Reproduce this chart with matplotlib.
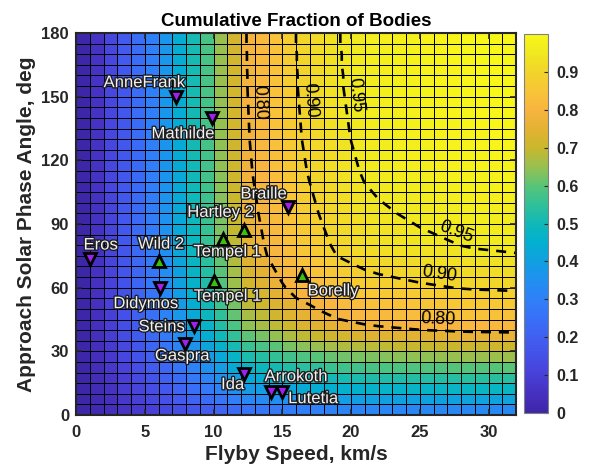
import numpy as np
import matplotlib
matplotlib.use("Agg")
import matplotlib.pyplot as plt
import matplotlib.colors as colors
import matplotlib.patheffects as pe
from matplotlib.transforms import ScaledTranslation

plt.rcParams['font.family'] = ['Liberation Sans', 'DejaVu Sans']

# grid edges (km/s, deg)
speed_kms = np.arange(0, 33, 1)
phase_deg = np.arange(0, 181, 5)

# cumulative fraction along the speed axis (read from the top row)
speed_frac = [0.00, 0.06, 0.12, 0.18, 0.24, 0.30, 0.37, 0.44, 0.51, 0.58,
              0.65, 0.72, 0.79, 0.815, 0.845, 0.875, 0.90, 0.915, 0.932, 0.948,
              0.957, 0.966, 0.972, 0.976, 0.980, 0.984, 0.987, 0.990, 0.993, 0.995,
              0.996, 0.997, 0.998]

# cumulative fraction along the phase axis (read from the right column)
phase_frac = [0.33, 0.41, 0.48, 0.54, 0.60, 0.655, 0.71, 0.765, 0.812, 0.842,
              0.866, 0.888, 0.908, 0.922, 0.936, 0.950, 0.957, 0.962, 0.967, 0.972,
              0.976, 0.980, 0.984, 0.987, 0.989, 0.991, 0.993, 0.994, 0.995, 0.996,
              0.997, 0.998, 0.998, 0.999, 0.999, 1.0, 1.0]

contour_levels = [0.80, 0.90, 0.95]

# flyby targets
body_names = ['AnneFrank', 'Mathilde', 'Braille', 'Hartley 2', 'Tempel 1', 'Tempel 1',
              'Wild 2', 'Eros', 'Didymos', 'Steins', 'Gaspra', 'Ida', 'Arrokoth',
              'Lutetia', 'Borelly']
body_speed = [7.3, 9.9, 15.4, 12.2, 10.7, 10.0, 6.05, 1.0, 6.1, 8.55, 7.95, 12.2,
              14.2, 15.0, 16.45]
body_phase = [150, 140, 98, 87, 83, 63, 72.5, 73.5, 60, 42, 33.5, 19.5, 11, 11, 66]
body_comet = [False, False, False, True, True, True, True, False, False, False,
              False, False, False, False, True]

# label offsets in pixels (layout only)
label_dx = [-32, -29, -24, -23, 4, 14, 2, 11, -14, -32, -3, -11, 25, 31, 31]
label_dy = [14, -16, 13, 18, -13, -15, 17, 14, -16, -1, -12, -11, 15, -7, -16]

# parula-like colour map
cmap = colors.LinearSegmentedColormap.from_list('parula_like', [
    (0.00, '#3e26a8'), (0.05, '#4630c0'), (0.10, '#4840d8'), (0.15, '#4450e8'),
    (0.20, '#4060f0'), (0.25, '#3870f8'), (0.30, '#2f80f8'), (0.35, '#2090f0'),
    (0.40, '#10a0e0'), (0.45, '#02b0d0'), (0.50, '#10b8b8'), (0.55, '#30c098'),
    (0.60, '#58c478'), (0.65, '#98c050'), (0.70, '#c9b82c'), (0.75, '#e2b232'),
    (0.80, '#f8b440'), (0.85, '#f8c438'), (0.90, '#f2d42a'), (0.95, '#f0e820'),
    (1.00, '#f8f818')])

Z = np.outer(phase_frac, speed_frac)

dark = '#262626'
fig = plt.figure(figsize=(5.89, 4.70), dpi=100)
ax = fig.add_axes([76/589, 1-415/470, 440/589, 382/470])
cax = fig.add_axes([524/589, 1-413/470, 24/589, 379/470])

mesh = ax.pcolormesh(speed_kms, phase_deg, Z[:-1, :-1], cmap=cmap, vmin=0, vmax=1,
                     edgecolors='k', linewidth=0.6)
cs = ax.contour(speed_kms, phase_deg, Z, levels=contour_levels, colors='k',
                linewidths=1.9, linestyles=[(0, (3.8, 3.0))])

ax.set_xlim(0, 32)
ax.set_ylim(0, 180)
ax.set_xticks(np.arange(0, 31, 5))
ax.set_yticks(np.arange(0, 181, 30))

for name, v, a, comet, dx, dy in zip(body_names, body_speed, body_phase, body_comet,
                                     label_dx, label_dy):
    if comet:
        ax.plot(v, a, marker='^', ms=9, mfc='#3cc010', mec='k', mew=2, zorder=5)
    else:
        ax.plot(v, a, marker='v', ms=9, mfc='#a020f0', mec='k', mew=2, zorder=5)
    ax.annotate(name, (v, a), xytext=(dx, dy), textcoords='offset pixels',
                ha='center', va='center', fontsize=12, color='#f2f2f2', zorder=6,
                path_effects=[pe.withStroke(linewidth=2, foreground='#202020')])

# contour labels, set a little off the line like the original
label_pos = [(12.5, 147), (16.3, 148), (19.3, 150),
             (26.3, 40), (26.3, 60.5), (27.4, 81.5)]
texts = ax.clabel(cs, manual=label_pos, inline=False, fmt='%.2f', fontsize=13,
                  colors='k')
for t in texts:
    r = np.deg2rad(t.get_rotation())
    d = 0.11
    t.set_transform(t.get_transform() + ScaledTranslation(-np.sin(r)*d, np.cos(r)*d,
                                                          fig.dpi_scale_trans))

for s in ax.spines.values():
    s.set_linewidth(1.5)
    s.set_color(dark)
ax.tick_params(direction='in', top=True, right=True, length=4, width=1.2, color=dark,
               labelsize=12, labelcolor=dark)
ax.tick_params(axis='x', pad=7)
ax.tick_params(axis='y', pad=5)
for lab in ax.get_xticklabels() + ax.get_yticklabels():
    lab.set_fontweight('bold')

ax.set_xlabel('Flyby Speed, km/s', fontsize=15, fontweight='bold', color=dark, labelpad=4)
ax.set_ylabel('Approach Solar Phase Angle, deg', fontsize=15, fontweight='bold',
              color=dark, labelpad=4)
ax.set_title('Cumulative Fraction of Bodies', fontsize=13.5, fontweight='bold',
             color='black', pad=5)

cb = fig.colorbar(mesh, cax=cax, ticks=np.arange(0, 0.95, 0.1))
cb.set_ticklabels(['0', '0.1', '0.2', '0.3', '0.4', '0.5', '0.6', '0.7', '0.8', '0.9'])
cb.outline.set_edgecolor('#808080')
cb.outline.set_linewidth(0.8)
cax.tick_params(direction='in', length=3, width=0.8, color=dark, labelsize=11.5,
                labelcolor=dark, pad=6)
for lab in cax.get_yticklabels():
    lab.set_fontweight('bold')

fig.savefig('out.png', dpi=100)
